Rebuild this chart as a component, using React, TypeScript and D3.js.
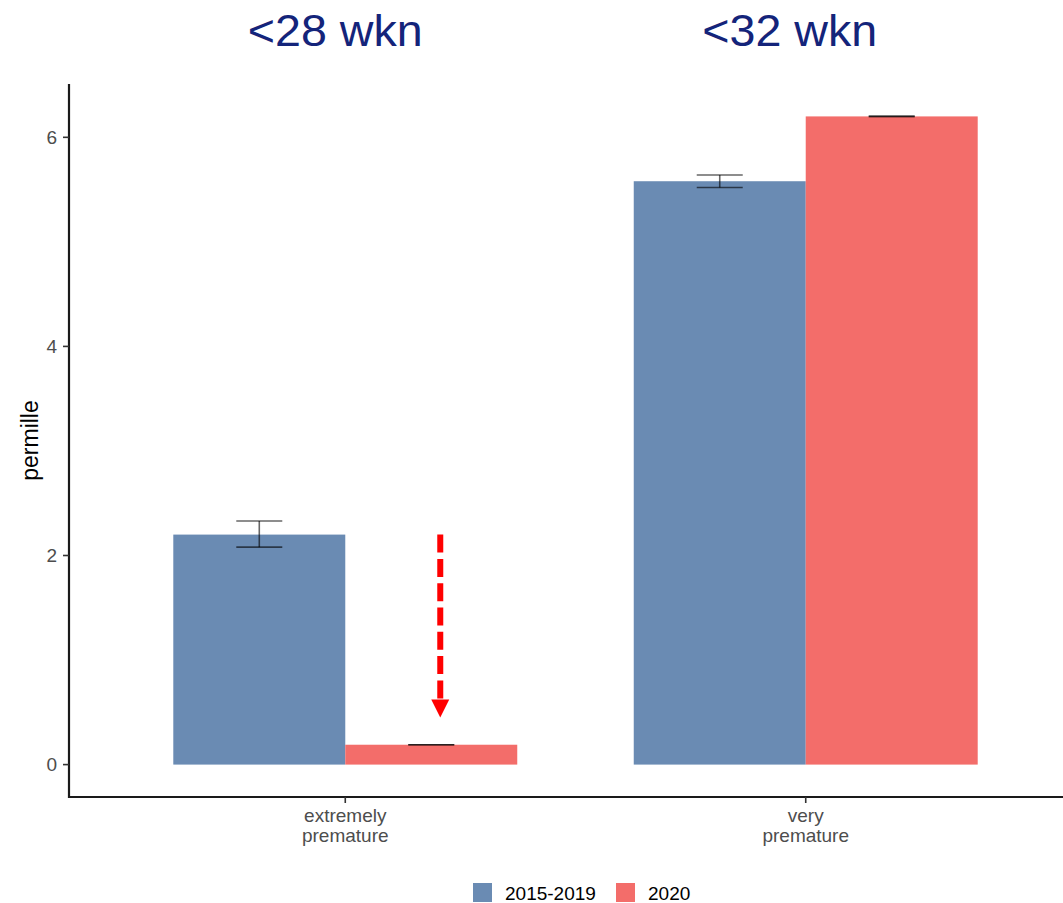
import React from "react";
import * as d3 from "d3";

const categories = ["extremely premature", "very premature"];
const categoryLines = [["extremely", "premature"], ["very", "premature"]];
const groupTitles = ["<28 wkn", "<32 wkn"];
const seriesNames = ["2015-2019", "2020"];
const values2015_2019 = [2.2, 5.58];
const values2020 = [0.19, 6.2];
const lower2015_2019 = [2.08, 5.52];
const upper2015_2019 = [2.33, 5.64];
const lower2020 = [0.19, 6.2];
const upper2020 = [0.19, 6.2];
const yTicks = [0, 2, 4, 6];
// annotation arrow (data units): from value to value on the 2020 bar of "extremely premature"
const arrowFrom = 2.2;
const arrowTo = 0.45;

const W = 1063;
const H = 903;
const FONT = "'Liberation Sans', Arial, Helvetica, sans-serif";
const COLORS = ["#6A8BB3", "#F36D6A"];
const TITLE_DX = [-10, -16];

export default function App() {
  const x = d3
    .scaleBand<string>()
    .domain(categories)
    .range([69, 1082])
    .paddingInner(0.253)
    .paddingOuter(0.2265);
  const xs = d3.scaleBand<string>().domain(seriesNames).range([0, x.bandwidth()]).padding(0);
  const y = d3.scaleLinear().domain([-0.31, 6.51]).range([797, 84]);

  const seriesData = [
    { name: seriesNames[0], values: values2015_2019, lo: lower2015_2019, hi: upper2015_2019 },
    { name: seriesNames[1], values: values2020, lo: lower2020, hi: upper2020 },
  ];

  const capW = 46;
  const arrowX = (x(categories[0]) as number) + (xs(seriesNames[1]) as number) + xs.bandwidth() / 2 + 9;
  const headH = 18;
  const headW = 18;
  const yArrowStart = y(arrowFrom);
  const yArrowTip = y(arrowTo);

  return (
    <svg
      width={W}
      height={H}
      style={{ position: "absolute", left: 0, top: 0, background: "#fff" }}
      fontFamily={FONT}
    >
      <rect x={0} y={0} width={W} height={H} fill="#fff" />
      {/* titles */}
      {categories.map((c, i) => (
        <text
          key={"t" + c}
          x={(x(c) as number) + x.bandwidth() / 2 + TITLE_DX[i]}
          y={46}
          textAnchor="middle"
          fontSize={44}
          fill="#14247A"
          textLength={175}
          lengthAdjust="spacingAndGlyphs"
        >
          {groupTitles[i]}
        </text>
      ))}

      {/* bars */}
      {seriesData.map((s, si) =>
        categories.map((c, ci) => {
          const bx = (x(c) as number) + (xs(s.name) as number);
          return (
            <rect
              key={s.name + c}
              x={bx}
              y={y(s.values[ci])}
              width={xs.bandwidth()}
              height={y(0) - y(s.values[ci])}
              fill={COLORS[si]}
            />
          );
        })
      )}

      {/* error bars */}
      {seriesData.map((s) =>
        categories.map((c, ci) => {
          const cx = (x(c) as number) + (xs(s.name) as number) + xs.bandwidth() / 2;
          return (
            <g key={"e" + s.name + c} stroke="#000" strokeOpacity={0.6} strokeWidth={1.6}>
              <line x1={cx - capW / 2} x2={cx + capW / 2} y1={y(s.hi[ci])} y2={y(s.hi[ci])} />
              <line x1={cx - capW / 2} x2={cx + capW / 2} y1={y(s.lo[ci])} y2={y(s.lo[ci])} />
              <line x1={cx} x2={cx} y1={y(s.hi[ci])} y2={y(s.lo[ci])} />
            </g>
          );
        })
      )}

      {/* arrow annotation */}
      <line
        x1={arrowX}
        x2={arrowX}
        y1={yArrowStart}
        y2={yArrowTip - headH}
        stroke="#FF0000"
        strokeWidth={6}
        strokeDasharray="18 6.3"
      />
      <path
        d={`M${arrowX - headW / 2},${yArrowTip - headH} L${arrowX + headW / 2},${yArrowTip - headH} L${arrowX},${yArrowTip} Z`}
        fill="#FF0000"
      />

      {/* y axis */}
      <line x1={69} x2={69} y1={84} y2={798} stroke="#1a1a1a" strokeWidth={2.2} />
      {yTicks.map((t) => (
        <g key={"y" + t}>
          <line x1={63} x2={69} y1={y(t)} y2={y(t)} stroke="#333" strokeWidth={1.6} />
          <text x={57} y={y(t)} dy="0.36em" textAnchor="end" fontSize={19} fill="#4D4D4D">
            {t}
          </text>
        </g>
      ))}
      <text
        transform={`translate(38,${(84 + 797) / 2}) rotate(-90)`}
        textAnchor="middle"
        fontSize={23}
        fill="#000"
      >
        permille
      </text>

      {/* x axis */}
      <line x1={68} x2={W} y1={797} y2={797} stroke="#1a1a1a" strokeWidth={2.2} />
      {categories.map((c, i) => {
        const cx = (x(c) as number) + x.bandwidth() / 2;
        return (
          <g key={"x" + c}>
            <line x1={cx} x2={cx} y1={797} y2={803} stroke="#333" strokeWidth={1.6} />
            {categoryLines[i].map((ln, li) => (
              <text
                key={ln}
                x={cx}
                y={822 + li * 20}
                textAnchor="middle"
                fontSize={19}
                fill="#4D4D4D"
              >
                {ln}
              </text>
            ))}
          </g>
        );
      })}

      {/* legend */}
      {seriesNames.map((s, i) => {
        const lx = [473, 616][i];
        return (
          <g key={"l" + s}>
            <rect x={lx} y={883} width={19} height={19} fill={COLORS[i]} />
            <text x={lx + 32} y={900} fontSize={19} fill="#000">
              {s}
            </text>
          </g>
        );
      })}
    </svg>
  );
}
